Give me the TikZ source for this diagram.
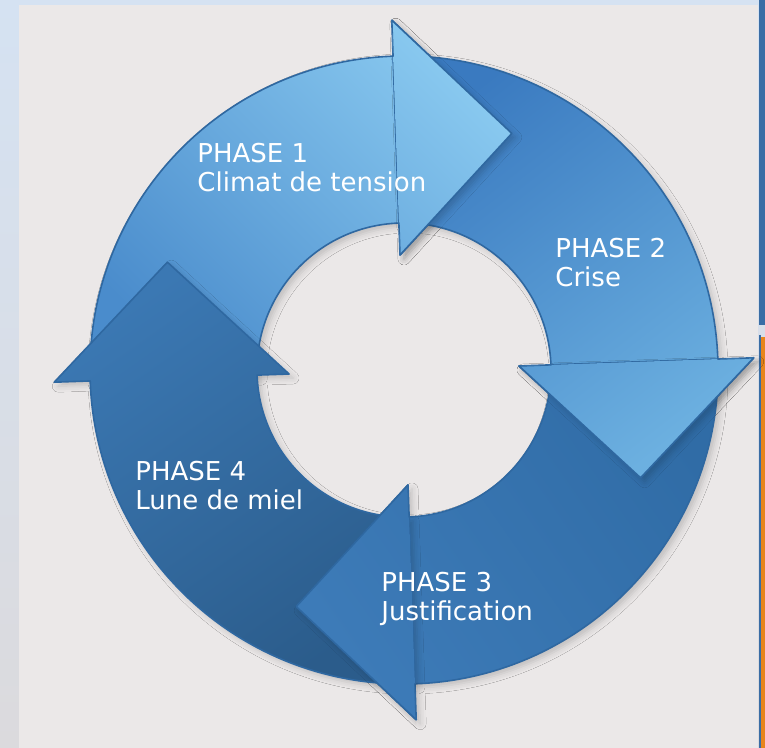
\documentclass[tikz,border=0pt]{standalone}
\usepackage{fontspec}
\setmainfont{DejaVu Sans}
\usetikzlibrary{shadows.blur}

\definecolor{sideblue}{HTML}{D5E2F2}
\definecolor{sidegray}{HTML}{DBDADD}
\definecolor{panel}{HTML}{EBE8E8}
\definecolor{barblue}{HTML}{3A6DA5}
\definecolor{barorange}{HTML}{E8851C}
\definecolor{ringedge}{HTML}{2F68A1}
\definecolor{onetail}{HTML}{4A8CCC}
\definecolor{onehead}{HTML}{88C8EF}
\definecolor{twotail}{HTML}{3A7AC0}
\definecolor{twohead}{HTML}{6CB0E0}
\definecolor{threetail}{HTML}{306CA6}
\definecolor{threehead}{HTML}{3D7BB8}
\definecolor{fourtail}{HTML}{2B5C8B}
\definecolor{fourhead}{HTML}{3B78B3}

\tikzset{
    phase/.style={
    text=white,font=\fontsize{13}{14.5}\selectfont,align=left,anchor=base west,inner sep=0pt
    },
    cyclearrow/.style={
    draw=ringedge,line width=0.8pt,line join=round
    },
    softshadow/.style={
    blur shadow={shadow xshift=2pt,shadow yshift=-2pt,shadow blur radius=3pt,shadow opacity=18}
    },
    onefill/.style={bottom color=onetail,top color=onehead,shading angle=-45},
    twofill/.style={bottom color=twotail,top color=twohead,shading angle=-142},
    threefill/.style={bottom color=threetail,top color=threehead,shading angle=125},
    fourfill/.style={bottom color=fourtail,top color=fourhead,shading angle=35},
}

% one bent arrow of the ring: #1 = angle of the tail, #2 = angle of the head base
\newcommand{\arrowpath}[2]{(#1:314) arc[start angle=#1,end angle=#2,radius=314]
  -- (#2:350) -- (#2-26.5:260) -- (#2:115) -- (#2:147)
  arc[start angle=#2,end angle=#1,radius=147] -- cycle}

\begin{document}
\begin{tikzpicture}[x=0.5pt,y=0.5pt]
  \useasboundingbox (0,0) rectangle (765,748);
  % page frame
  \shade[top color=sideblue,bottom color=sidegray] (0,0) rectangle (765,748);
  \fill[panel] (19,0) rectangle (758,743);
  \fill[barblue] (759,423) rectangle (765,748);
  \fill[barblue] (759,0) rectangle (761,413);
  \fill[barorange] (761,0) rectangle (765,411);

  \begin{scope}[shift={(404,378)}]
    \shadedraw[cyclearrow,softshadow,onefill] \arrowpath{182}{92};
    \shadedraw[cyclearrow,softshadow,twofill] \arrowpath{92}{2};
    \shadedraw[cyclearrow,softshadow,threefill] \arrowpath{2}{-88};
    \shadedraw[cyclearrow,softshadow,fourfill] \arrowpath{-88}{-178};
    % heads go back on top of the following tail
    \begin{scope}
      \clip (0,0) -- (92:420) arc[start angle=92,end angle=32,radius=420] -- cycle;
      \shadedraw[cyclearrow,softshadow,onefill] \arrowpath{182}{92};
    \end{scope}
    \begin{scope}
      \clip (0,0) -- (2:420) arc[start angle=2,end angle=-58,radius=420] -- cycle;
      \shadedraw[cyclearrow,softshadow,twofill] \arrowpath{92}{2};
    \end{scope}
    \begin{scope}
      \clip (0,0) -- (-88:420) arc[start angle=-88,end angle=-148,radius=420] -- cycle;
      \shadedraw[cyclearrow,softshadow,threefill] \arrowpath{2}{-88};
    \end{scope}
  \end{scope}

  \node[phase] (one) at (197,556) {PHASE 1\\Climat de tension};
  \node[phase] (two) at (555,461) {PHASE 2\\Crise};
  \node[phase] (three) at (381,127) {PHASE 3\\Justification};
  \node[phase] (four) at (135,238) {PHASE 4\\Lune de miel};
\end{tikzpicture}
\end{document}
